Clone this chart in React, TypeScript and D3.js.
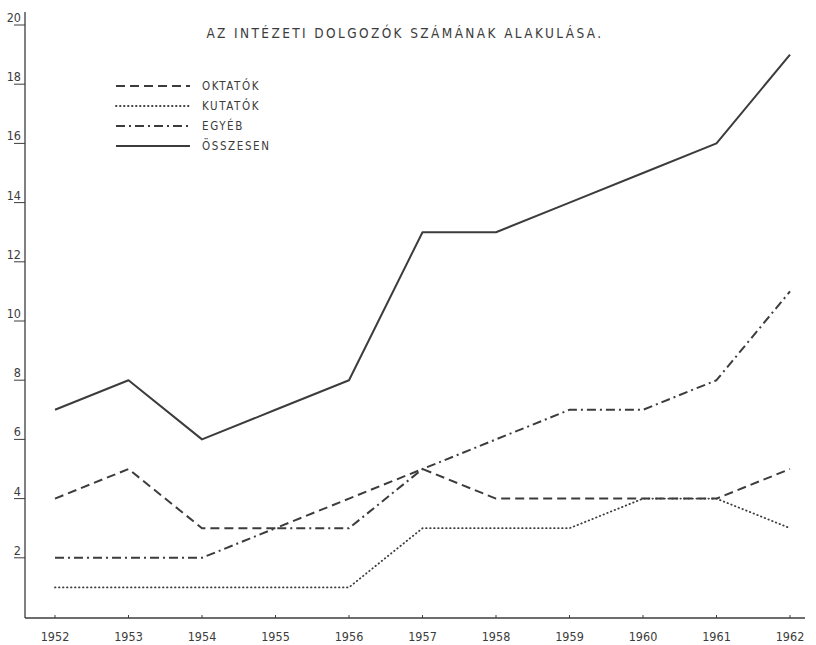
import React from 'react';
import * as d3 from 'd3';

const years = [1952, 1953, 1954, 1955, 1956, 1957, 1958, 1959, 1960, 1961, 1962];
const oktatok = [4, 5, 3, 3, 4, 5, 4, 4, 4, 4, 5];
const kutatok = [1, 1, 1, 1, 1, 3, 3, 3, 4, 4, 3];
const egyeb = [2, 2, 2, 3, 3, 5, 6, 7, 7, 8, 11];
const osszesen = [7, 8, 6, 7, 8, 13, 13, 14, 15, 16, 19];
const yTicks = [2, 4, 6, 8, 10, 12, 14, 16, 18, 20];

const title = 'AZ INTÉZETI DOLGOZÓK SZÁMÁNAK ALAKULÁSA.';

const series = [
  { name: 'OKTATÓK', values: oktatok, dash: '9 5', cap: 'butt' },
  { name: 'KUTATÓK', values: kutatok, dash: '0.5 3.5', cap: 'round' },
  { name: 'EGYÉB', values: egyeb, dash: '9 4 2 4', cap: 'butt' },
  { name: 'ÖSSZESEN', values: osszesen, dash: '', cap: 'butt' },
];

const W = 816;
const H = 645;
const ink = '#3c3c3c';
const font = "'DejaVu Sans Condensed', 'DejaVu Sans', sans-serif";

export default function App() {
  const x = d3.scaleLinear().domain([1952, 1962]).range([55, 790]);
  const y = d3.scaleLinear().domain([0, 20]).range([617, 25]);

  const line = d3.line<number>()
    .x((_, i) => x(years[i]))
    .y(d => y(d));

  const axisLeft = 25;
  const axisBottom = y(0) + 1;

  return (
    <div style={{ position: 'fixed', left: 0, top: 0, width: W, height: H, background: '#fff' }}>
      <svg width={W} height={H} style={{ display: 'block' }}>
        {/* axes */}
        <line x1={axisLeft} y1={12} x2={axisLeft} y2={axisBottom} stroke={ink} strokeWidth={1.3} />
        <line x1={axisLeft} y1={axisBottom} x2={805} y2={axisBottom} stroke={ink} strokeWidth={1.3} />

        {yTicks.map(t => (
          <g key={t}>
            <line x1={14} x2={axisLeft} y1={y(t)} y2={y(t)} stroke={ink} strokeWidth={1} />
            <text x={21} y={y(t) - 3} textAnchor="end" fontFamily={font} fontSize={12.5} fill={ink}>{t}</text>
          </g>
        ))}

        {years.map(yr => (
          <g key={yr}>
            <line x1={x(yr)} x2={x(yr)} y1={axisBottom} y2={axisBottom - 3} stroke={ink} strokeWidth={1} />
            <text x={x(yr)} y={axisBottom + 23} textAnchor="middle" fontFamily={font} fontSize={12.5} fill={ink}>{yr}</text>
          </g>
        ))}

        {/* title */}
        <text x={405} y={38} textAnchor="middle" fontFamily={font} fontSize={13.5} letterSpacing={2.4} fill={ink}>{title}</text>

        {/* series */}
        {series.map(s => (
          <path key={s.name} d={line(s.values) || ''} fill="none" stroke={ink}
            strokeWidth={s.cap === 'round' ? 1.8 : 2}
            strokeDasharray={s.dash || undefined}
            strokeLinecap={s.cap as any} strokeLinejoin="round" />
        ))}

        {/* legend */}
        {series.map((s, i) => {
          const ly = 86 + i * 20;
          return (
            <g key={s.name}>
              <line x1={116} x2={190} y1={ly} y2={ly} stroke={ink}
                strokeWidth={s.cap === 'round' ? 1.8 : 2}
                strokeDasharray={s.dash || undefined} strokeLinecap={s.cap as any} />
              <text x={202} y={ly + 4} fontFamily={font} fontSize={11.5} letterSpacing={1.6} fill={ink}>{s.name}</text>
            </g>
          );
        })}
      </svg>
    </div>
  );
}
